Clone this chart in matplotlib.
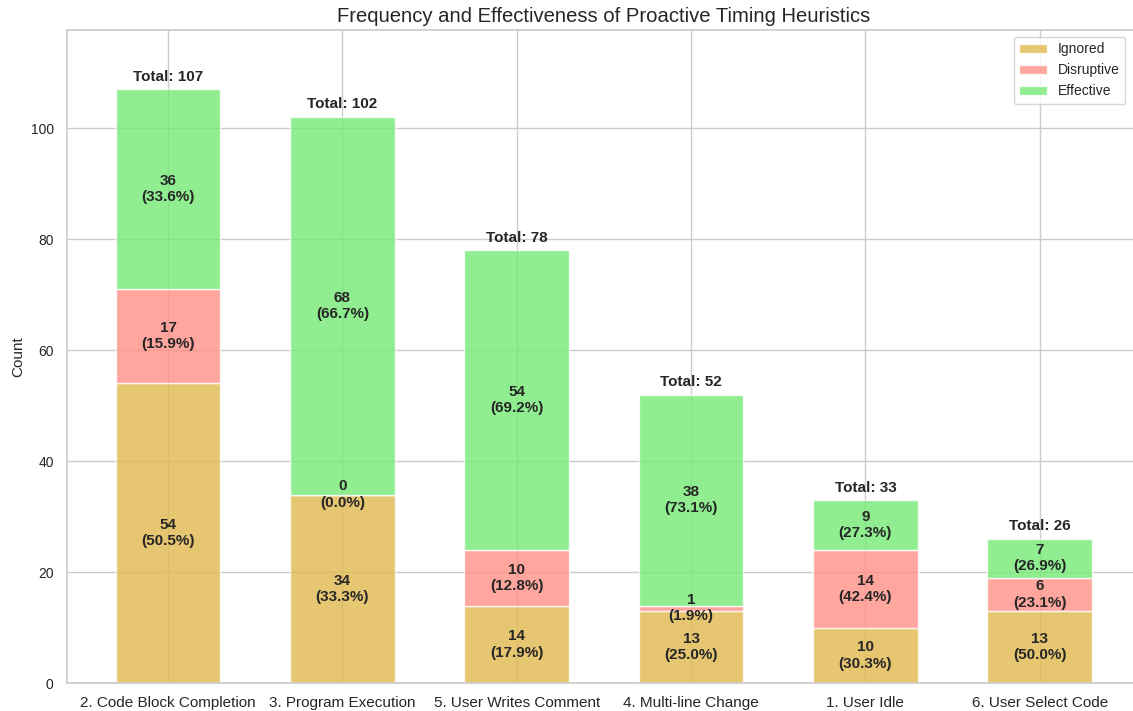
import matplotlib

matplotlib.use("Agg")

import matplotlib.pyplot as plt
import numpy as np
import seaborn as sns

categories = ["2. Code Block Completion", "3. Program Execution",
              "5. User Writes Comment", "4. Multi-line Change",
              "1. User Idle", "6. User Select Code"]
ignored = [54, 34, 14, 13, 10, 13]
disruptive = [17, 0, 10, 1, 14, 6]
effective = [36, 68, 54, 38, 9, 7]

series = [("Ignored", ignored, "#e2b84f"),
          ("Disruptive", disruptive, "#ff9086"),
          ("Effective", effective, "#74ea74")]

sns.set_theme(style="whitegrid")
plt.rcParams["font.family"] = ["Liberation Sans", "DejaVu Sans"]

fig, ax = plt.subplots(figsize=(11.33, 7.11), dpi=100)
x = np.arange(len(categories))
totals = np.array(ignored) + np.array(disruptive) + np.array(effective)
bottom = np.zeros(len(categories))

for name, vals, color in series:
    vals = np.array(vals, dtype=float)
    ax.bar(x, vals, 0.6, bottom=bottom, color=color, alpha=0.8,
           edgecolor="white", linewidth=1, label=name)
    for xi, b, v, tot in zip(x, bottom, vals, totals):
        ax.text(xi, b + v / 2, f"{int(v)}\n({100 * v / tot:.1f}%)",
                ha="center", va="center", fontsize=11, fontweight="bold",
                color="#262626", linespacing=1.2)
    bottom += vals

for xi, tot in zip(x, totals):
    ax.text(xi, tot + 1, f"Total: {tot}", ha="center", va="bottom",
            fontsize=11, fontweight="bold", color="#262626")

ax.set_ylim(0, totals.max() * 1.1)
ax.set_xticks(x)
ax.set_xticklabels(categories, fontsize=11)
ax.tick_params(axis="y", labelsize=10)
ax.set_ylabel("Count", fontsize=11)
ax.set_title("Frequency and Effectiveness of Proactive Timing Heuristics",
             fontsize=14.6)
ax.legend(loc="upper right", fontsize=10, bbox_to_anchor=(0.992, 1.0))
fig.subplots_adjust(left=0.059, right=1.007, top=0.958, bottom=0.039)
fig.savefig("out.png", dpi=100)
